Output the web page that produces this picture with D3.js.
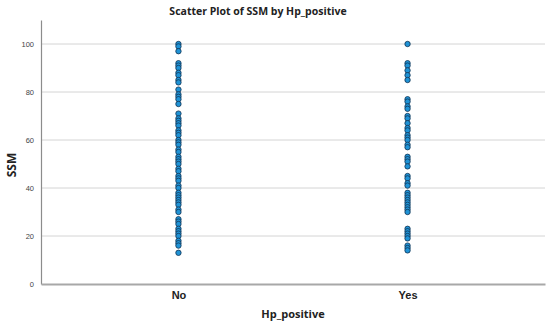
<!DOCTYPE html>
<html>
<head>
<meta charset="utf-8">
<script src="https://cdn.jsdelivr.net/npm/d3@7"></script>
<style>
  body { margin: 0; background: #fff; }
  svg { font-family: "Open Sans", "Liberation Sans", sans-serif; }
</style>
</head>
<body>
<svg width="550" height="326"></svg>
<script>
// values
const categories = ["No", "Yes"];
const ssmNo = [100, 99, 97, 92, 91, 90, 88, 87, 85, 84, 81, 79, 78, 77, 75,
  71, 69, 68, 67, 66, 64, 63, 62, 60, 59, 58, 56, 55, 53, 52, 51, 50, 48, 47, 45, 44, 43,
  41, 40, 38, 37, 36, 35, 34, 33, 31, 30,
  27, 26, 25, 23, 22, 21, 20, 18, 17, 16, 13];
const ssmYes = [100, 92, 91, 89, 87, 85, 77, 76, 74, 73, 70, 69, 67, 65, 64, 62, 61,
  60, 58, 57, 53, 52, 51, 49, 45, 44, 42, 41, 38, 37, 36, 35, 34, 33, 32, 31, 30,
  23, 22, 21, 20, 19, 16, 15, 14];
const yTicks = [0, 20, 40, 60, 80, 100];

const points = [
  ...ssmNo.map(v => ({cat: "No", v})),
  ...ssmYes.map(v => ({cat: "Yes", v}))
];

const svg = d3.select("svg");
const plotL = 41, plotR = 545, plotT = 20, plotB = 284;

const x = d3.scalePoint().domain(categories).range([plotL, plotR]).padding(0.6);
const y = d3.scaleLinear().domain([0, 110]).range([plotB, plotT]);

// gridlines
svg.append("g").selectAll("line")
    .data(yTicks.filter(d => d > 0))
    .join("line")
    .attr("x1", plotL).attr("x2", plotR)
    .attr("y1", d => y(d)).attr("y2", d => y(d))
    .attr("stroke", "#d4d4d4")
    .attr("stroke-width", 1);

// y axis
let gy = svg.append("g")
    .attr("transform", `translate(${plotL},0)`)
    .call(d3.axisLeft(y).tickValues(yTicks).tickSize(0).tickPadding(7));
gy.select(".domain").attr("stroke", "#8c8c8c").attr("stroke-width", 1.2);
gy.selectAll("text").attr("font-size", 7.5).attr("fill", "#444");

// x axis
let gx = svg.append("g")
    .attr("transform", `translate(0,${plotB})`)
    .call(d3.axisBottom(x).tickSize(0).tickPadding(7));
gx.select(".domain").attr("stroke", "#a8a8a8").attr("stroke-width", 2);
gx.selectAll("text").attr("font-size", 11).attr("font-weight", 600).attr("fill", "#222");

// points
svg.append("g").selectAll("circle")
    .data(points)
    .join("circle")
    .attr("cx", d => x(d.cat))
    .attr("cy", d => y(d.v))
    .attr("r", 2.7)
    .attr("fill", "#1f93d6")
    .attr("stroke", "#123252")
    .attr("stroke-width", 0.8);

// titles
svg.append("text")
    .attr("x", 258).attr("y", 15)
    .attr("text-anchor", "middle")
    .attr("font-size", 10.5).attr("font-weight", "bold")
    .attr("fill", "#222")
    .text("Scatter Plot of SSM by Hp_positive");

svg.append("text")
    .attr("x", (plotL + plotR) / 2).attr("y", 318)
    .attr("text-anchor", "middle")
    .attr("font-size", 11).attr("font-weight", "bold")
    .attr("fill", "#222")
    .text("Hp_positive");

svg.append("text")
    .attr("transform", "translate(16,165) rotate(-90)")
    .attr("text-anchor", "middle")
    .attr("font-size", 12).attr("font-weight", "bold")
    .attr("fill", "#222")
    .text("SSM");
</script>
</body>
</html>
